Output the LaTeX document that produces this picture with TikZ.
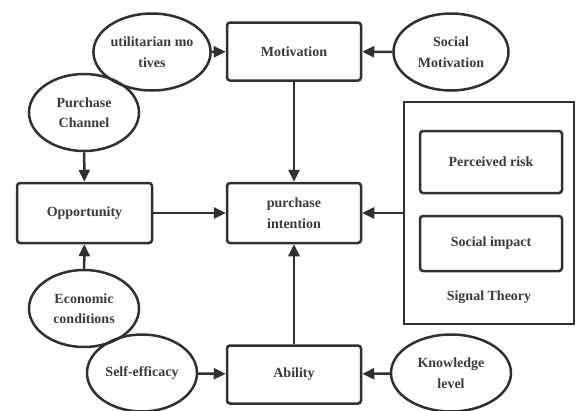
\documentclass[tikz,border=0pt]{standalone}
\usepackage{fontspec}
\setmainfont{Liberation Serif}
\usetikzlibrary{shapes.geometric,arrows.meta}
\definecolor{linegray}{HTML}{303030}
\definecolor{textgray}{HTML}{3A3A3A}
\tikzset{
    box/.style={draw=linegray,line width=2.5pt,rounded corners=3pt,minimum width=134pt,minimum height=58pt,align=center,text=textgray},
    oval/.style={ellipse,draw=linegray,line width=2.5pt,minimum width=110pt,minimum height=77pt,inner sep=0pt,align=center,text=textgray}
}
\begin{document}
\begin{tikzpicture}[x=1pt,y=-1pt,font=\fontsize{14}{20.5}\selectfont\bfseries]
    \useasboundingbox (0,0) rectangle (576,410);

    % main boxes
    \begin{scope}[every node/.style={box}]
        \node (motiv) at (294,51.5) {Motivation};
        \node[minimum height=60pt] (intent) at (294,213) {purchase\\intention};
        \node[minimum height=60pt,minimum width=135pt] (opport) at (84.5,213) {Opportunity};
        \node (ability) at (294,374.5) {Ability};
        \node[minimum width=142pt,minimum height=62pt] (risk) at (491,162) {Perceived risk};
        \node[minimum width=142pt,minimum height=55pt] (impact) at (491,243.5) {Social impact};
    \end{scope}
    \node[draw=linegray,line width=2.2pt,minimum width=170pt,minimum height=222pt] (signal) at (489,213) {};
    \node[text=textgray] (sigtitle) at (489,297) {Signal Theory};

    % factors
    \begin{scope}[every node/.style={oval}]
        \node[minimum width=112pt] (util) at (152,52) {utilitarian mo\\tives};
        \node[minimum width=115pt] (socmot) at (451,52) {Social\\Motivation};
        \node (channel) at (84,112.5) {Purchase\\Channel};
        \node (econ) at (84,308.5) {Economic\\conditions};
        \node (selfeff) at (142,373) {Self-efficacy};
        \node[minimum width=120pt] (knowl) at (451,373) {Knowledge\\level};
    \end{scope}

    \begin{scope}[>={Triangle[length=12pt,width=11pt]},line width=2.5pt,draw=linegray]
        \path [->] (util) edge (motiv);
        \path [->] (socmot) edge (motiv);
        \path [->] (motiv) edge (intent);
        \path [->] (channel) edge (opport);
        \path [->] (econ) edge (opport);
        \path [->] (opport) edge (intent);
        \path [->] (signal) edge (intent);
        \path [->] (ability) edge (intent);
        \path [->] (selfeff) edge (ability);
        \path [->] (knowl) edge (ability);
    \end{scope}
\end{tikzpicture}
\end{document}
